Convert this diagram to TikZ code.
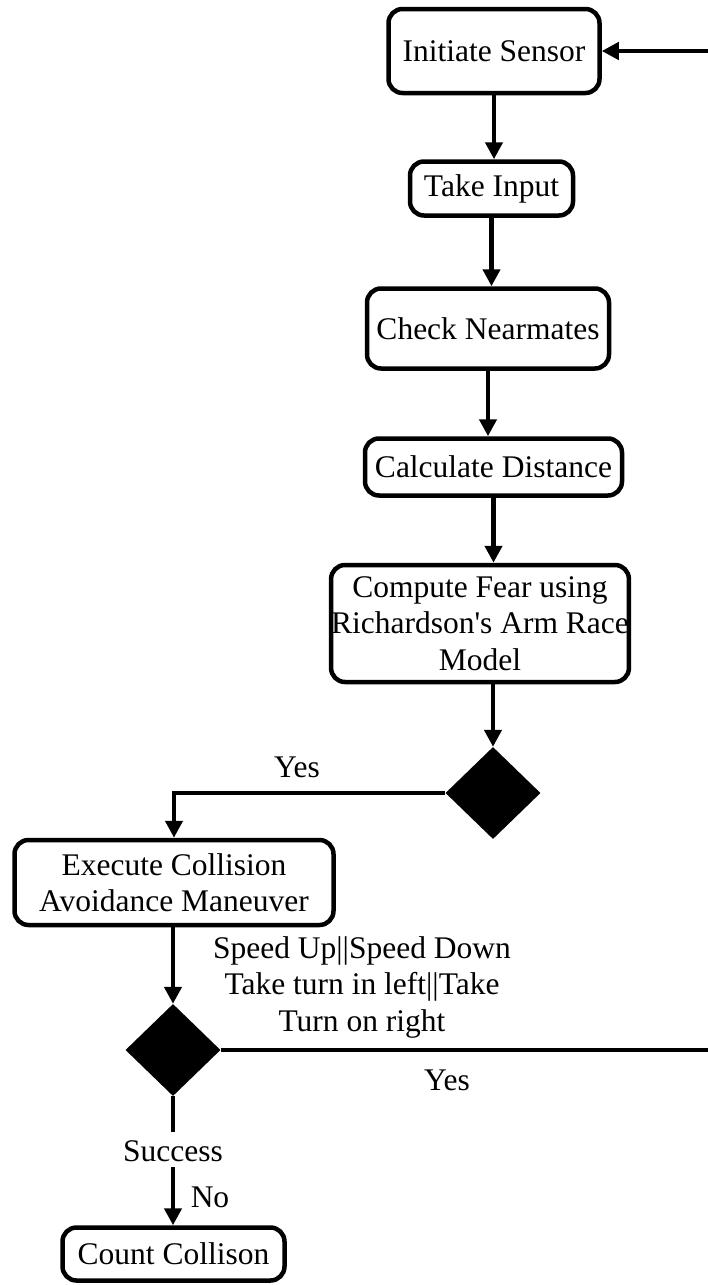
\documentclass[tikz,border=0pt]{standalone}
\usepackage{fontspec}
\setmainfont{Liberation Serif}
\usetikzlibrary{arrows.meta,shapes.geometric}
\begin{document}
\begin{tikzpicture}[x=1pt,y=-1pt,
  every node/.style={font=\fontsize{31.5}{36.5}\selectfont, inner sep=0pt},
  proc/.style={draw, line width=4.5pt, rounded corners=14pt, align=center, fill=white},
  dec/.style={diamond, fill=black, draw=none, minimum width=95pt, minimum height=92pt},
  conn/.style={line width=4.5pt, -{Triangle[length=17pt,width=17pt]}},
  plain/.style={line width=4.5pt},
  lbl/.style={align=center}]
\useasboundingbox (0,0) rectangle (708,1285);
\node[proc, minimum width=211pt, minimum height=84pt] (init) at (494,51) {Initiate Sensor};
\node[proc, minimum width=163pt, minimum height=54pt] (take) at (491.5,188.5) {Take Input};
\node[proc, minimum width=242pt, minimum height=80pt] (check) at (488,328.5) {Check Nearmates};
\node[proc, minimum width=257pt, minimum height=57pt] (calc) at (493.5,467) {Calculate Distance};
\node[proc, minimum width=290pt, minimum height=117pt] (fear) at (480,623.5) {Compute Fear using\\Richardson\textquotesingle s Arm Race\\Model};
\node[dec] (d1) at (493,793) {};
\node[proc, minimum width=319pt, minimum height=85pt] (exec) at (174,882.5) {Execute Collision\\Avoidance Maneuver};
\node[dec] (d2) at (173,1050) {};
\node[proc, minimum width=222pt, minimum height=53pt] (count) at (173.5,1254) {Count Collison};

\node[lbl] (yes1) at (297,767) {Yes};
\node[lbl] (man) at (362,987) {Speed Up||Speed Down\\Take turn in left||Take\\Turn on right};
\node[lbl] (yes2) at (447,1080) {Yes};
\node[lbl] (succ) at (173,1151) {Success};
\node[lbl] (no) at (210,1197) {No};

\coordinate (rloop) at (712,1050);

\draw[conn] (init.south) -- (init.south |- take.north);
\draw[conn] (take.south) -- (take.south |- check.north);
\draw[conn] (check.south) -- (check.south |- calc.north);
\draw[conn] (calc.south) -- (calc.south |- fear.north);
\draw[conn] (fear.south -| d1.north) -- (d1.north);
\draw[conn] (d1.west) -| (exec.north);
\draw[conn] (exec.south -| d2.north) -- (d2.north);
\draw[plain] (d2.east) -- (rloop);
\draw[conn] (rloop) |- (init.east);
\draw[plain] (d2.south) -- ([yshift=8pt]succ.north);
\draw[conn] ([yshift=-5pt]succ.south) -- (succ.south |- count.north);
\end{tikzpicture}
\end{document}
